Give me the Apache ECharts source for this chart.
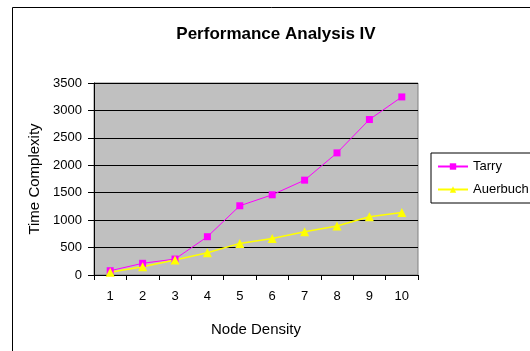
<!DOCTYPE html>
<html><head><meta charset="utf-8">
<script src="https://cdn.jsdelivr.net/npm/echarts@6/dist/echarts.min.js"></script>
<style>html,body{margin:0;padding:0;background:#fff}#c{width:530px;height:351px}</style>
</head><body><div id="c"></div>
<script>
const categories = ['1','2','3','4','5','6','7','8','9','10'];
const tarry = [78, 213, 291, 698, 1262, 1462, 1729, 2226, 2834, 3246];
const auerbuch = [49, 152, 273, 407, 576, 667, 789, 892, 1063, 1141];
const yTicks = {min: 0, max: 3500, interval: 500};
const FONT = '"Liberation Sans", Arial, sans-serif';
const chart = echarts.init(document.getElementById('c'));
chart.setOption({
  animation: false,
  backgroundColor: '#fff',
  title: {text: 'Performance Analysis IV', left: 271, top: 21, textAlign: 'center',
    textStyle: {fontFamily: FONT, fontSize: 17, fontWeight: 'bold', color: '#000'}},
  graphic: [{type: 'rect', shape: {x: 12.5, y: 7.5, width: 540, height: 360}, style: {fill: 'none', stroke: '#000', lineWidth: 1}, z: -1}],
  grid: {left: 94, top: 83, right: 112, bottom: 76, show: true, backgroundColor: '#c0c0c0', borderColor: '#808080', borderWidth: 1},
  legend: {orient: 'vertical', left: 431, top: 153, borderColor: '#000', borderWidth: 1, padding: [7, 6, 7, 6], itemGap: 10,
    itemWidth: 30, itemHeight: 8, textStyle: {fontFamily: FONT, fontSize: 13, color: '#000'},
    data: ['Tarry', 'Auerbuch']},
  xAxis: {type: 'category', data: categories, boundaryGap: true,
    name: 'Node Density', nameLocation: 'middle', nameGap: 47,
    nameTextStyle: {fontFamily: FONT, fontSize: 15, color: '#000'},
    axisLine: {lineStyle: {color: '#000'}}, axisTick: {show: true, length: 5, lineStyle: {color: '#000'}},
    axisLabel: {fontFamily: FONT, fontSize: 13, color: '#000', margin: 15}},
  yAxis: {type: 'value', min: yTicks.min, max: yTicks.max, interval: yTicks.interval,
    name: 'Time Complexity', nameLocation: 'middle', nameGap: 50,
    nameTextStyle: {fontFamily: FONT, fontSize: 15, color: '#000'},
    axisLine: {show: true, lineStyle: {color: '#000'}}, axisTick: {show: true, length: 6, lineStyle: {color: '#000'}},
    splitLine: {lineStyle: {color: '#000', width: 1}},
    axisLabel: {fontFamily: FONT, fontSize: 13, color: '#000', margin: 12, formatter: v => String(v)}},
  series: [
    {name: 'Tarry', type: 'line', data: tarry, symbol: 'rect', symbolSize: 7,
      lineStyle: {color: '#ff00ff', width: 1}, itemStyle: {color: '#ff00ff'}},
    {name: 'Auerbuch', type: 'line', data: auerbuch, symbol: 'triangle', symbolSize: 9,
      lineStyle: {color: '#ffff00', width: 1.5}, itemStyle: {color: '#ffff00'}}
  ]
});
</script></body></html>
